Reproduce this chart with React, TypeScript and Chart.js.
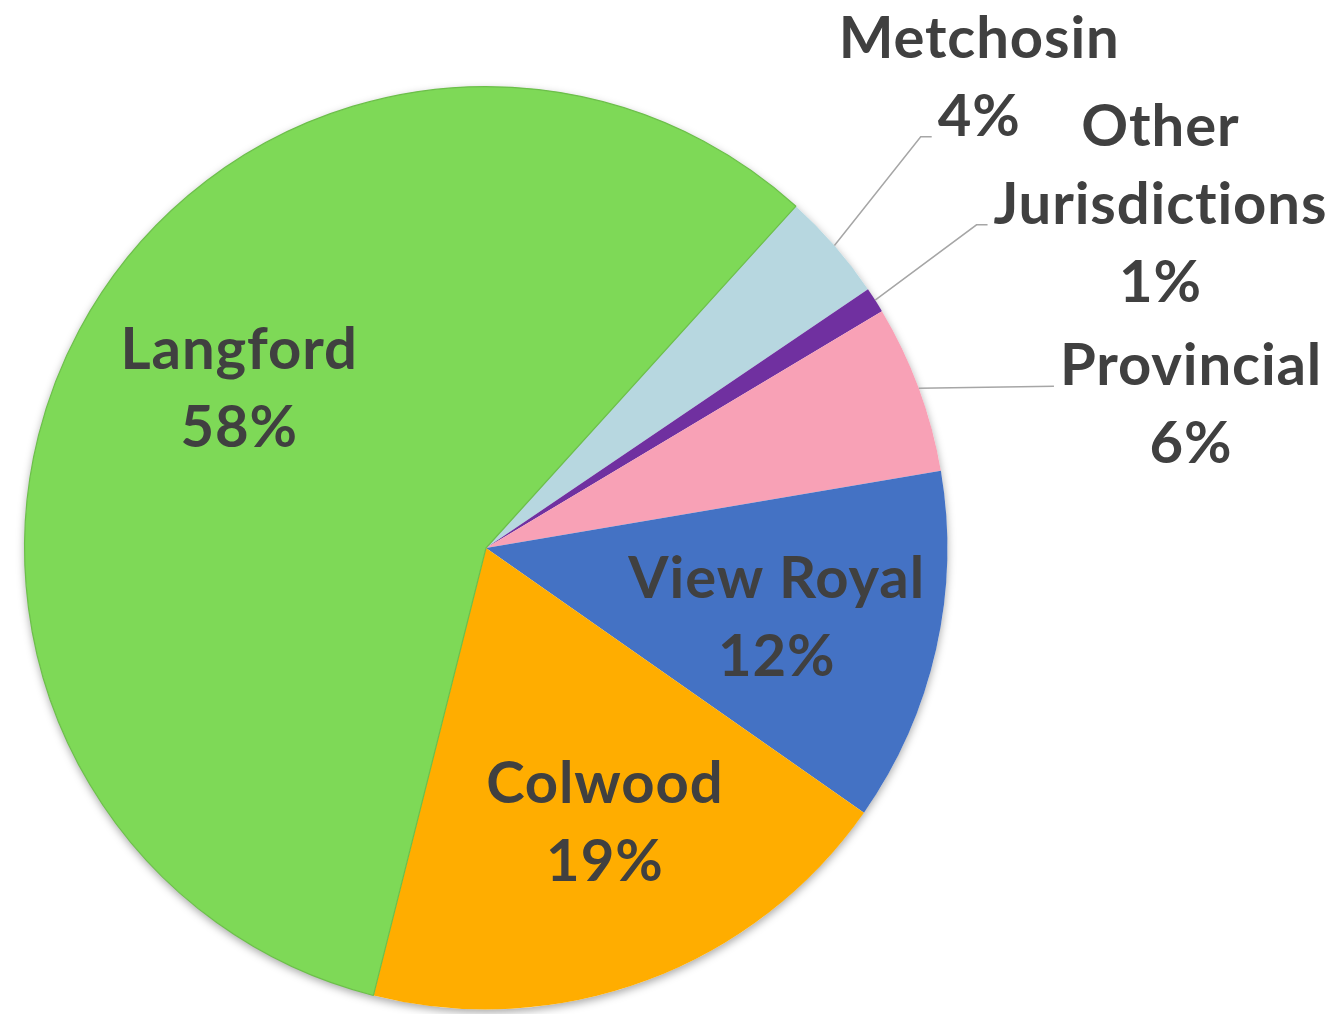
import React, { useEffect, useRef } from "react";
import { Chart, registerables } from "chart.js";

Chart.register(...registerables);

// ---- data ----
const categories = ["Metchosin", "Other Jurisdictions", "Provincial", "View Royal", "Colwood", "Langford"];
const labelLines = [["Metchosin"], ["Other", "Jurisdictions"], ["Provincial"], ["View Royal"], ["Colwood"], ["Langford"]];
const shares = [3.8, 0.9, 5.9, 12.4, 19.2, 57.8];
const sliceColors = ["#B7D7E0", "#7030A0", "#F8A1B6", "#4472C4", "#FFAD00", "#7ED957"];

// ---- label layout (angle offset from slice middle in degrees, radius as fraction of pie radius) ----
const labelAngleOffset = [-2.8, 5.4, 8.65, 0.5, -3.1, 5.0];
const labelRadius = [1.48, 1.642, 1.56, 0.647, 0.645, 0.639];
const leaderLine = [1, 1, 0, -1, -1, -1]; // which text line the leader attaches to; -1 = no leader

const FONT_SIZE = 58;
const LINE_HEIGHT = 78;
const CAP_HEIGHT = 42;
const TEXT_COLOR = "#404040";

const shadowPlugin = {
  id: "pieShadow",
  beforeDatasetsDraw(chart: any) {
    const meta = chart.getDatasetMeta(0);
    const a = meta.data[0];
    if (!a) return;
    const ctx = chart.ctx;
    ctx.save();
    ctx.shadowColor = "rgba(0,0,0,0.35)";
    ctx.shadowBlur = 8;
    ctx.shadowOffsetX = 0;
    ctx.shadowOffsetY = 3;
    ctx.fillStyle = "#ffffff";
    ctx.beginPath();
    ctx.arc(a.x, a.y, a.outerRadius, 0, Math.PI * 2);
    ctx.fill();
    ctx.restore();
  },
};

const labelPlugin = {
  id: "pieLabels",
  afterDatasetsDraw(chart: any) {
    const meta = chart.getDatasetMeta(0);
    const ctx = chart.ctx;
    ctx.save();
    ctx.font = `bold ${FONT_SIZE}px Lato`;
    try {
      (ctx as any).letterSpacing = "0.9px";
    } catch (e) {}
    ctx.fillStyle = TEXT_COLOR;
    ctx.textAlign = "center";
    ctx.textBaseline = "alphabetic";
    meta.data.forEach((arc: any, i: number) => {
      const cx = arc.x;
      const cy = arc.y;
      const R = arc.outerRadius;
      const mid = (arc.startAngle + arc.endAngle) / 2;
      const ang = mid + (labelAngleOffset[i] * Math.PI) / 180;
      const bx = cx + Math.cos(ang) * R * labelRadius[i];
      const by = cy + Math.sin(ang) * R * labelRadius[i];
      const lines = [...labelLines[i], Math.round(shares[i]) + "%"];
      const n = lines.length;
      const firstBaseline = by - ((n - 1) * LINE_HEIGHT) / 2 + CAP_HEIGHT / 2;
      lines.forEach((t, k) => {
        ctx.fillText(t, bx, firstBaseline + k * LINE_HEIGHT);
      });
      const li = leaderLine[i];
      if (li >= 0) {
        const w = ctx.measureText(lines[li]).width;
        const endX = bx - w / 2 - 6;
        const endY = firstBaseline + li * LINE_HEIGHT + 1;
        const sx = cx + Math.cos(mid) * R;
        const sy = cy + Math.sin(mid) * R;
        ctx.save();
        ctx.strokeStyle = "#A6A6A6";
        ctx.lineWidth = 1.5;
        ctx.beginPath();
        ctx.moveTo(sx, sy);
        if (Math.abs(endY - sy) > 4) ctx.lineTo(endX - 11, endY);
        ctx.lineTo(endX, endY);
        ctx.stroke();
        ctx.restore();
      }
    });
    ctx.restore();
  },
};

export default function App() {
  const canvasRef = useRef<HTMLCanvasElement | null>(null);

  useEffect(() => {
    if (!canvasRef.current) return;
    const chart = new Chart(canvasRef.current, {
      type: "pie",
      data: {
        labels: categories,
        datasets: [
          {
            data: shares,
            backgroundColor: sliceColors,
            borderColor: ["#B7D7E0", "#7030A0", "#F8A1B6", "#4472C4", "#FFAD00", "#6CBF4A"],
            borderWidth: [0, 0, 0, 0, 0, 1.2],
          },
        ],
      },
      options: {
        responsive: false,
        animation: false,
        rotation: 42.2,
        devicePixelRatio: 1,
        layout: { padding: { left: 24, top: 86, right: 385, bottom: 4 } },
        plugins: {
          legend: { display: false },
          tooltip: { enabled: false },
          title: { display: false },
        },
      },
      plugins: [shadowPlugin, labelPlugin],
    });
    return () => chart.destroy();
  }, []);

  return (
    <div style={{ position: "fixed", left: 0, top: 0, width: 1333, height: 1014, background: "#ffffff" }}>
      <canvas ref={canvasRef} width={1333} height={1014} style={{ width: 1333, height: 1014, display: "block" }} />
    </div>
  );
}
